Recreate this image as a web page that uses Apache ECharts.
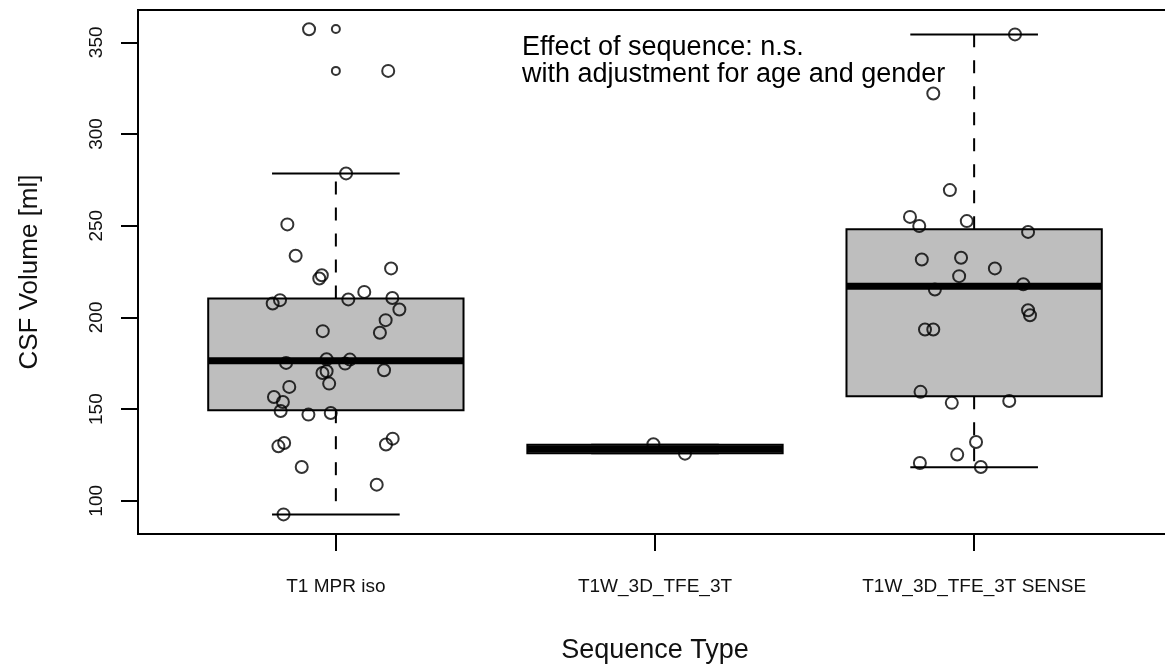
<!DOCTYPE html>
<html lang="en">
<head>
    <meta charset="UTF-8">
    <script src="https://cdn.jsdelivr.net/npm/echarts@6/dist/echarts.min.js"></script>
    <style>
        html, body { margin: 0; padding: 0; background: #fff; overflow: hidden; }
        /* the plot box runs a few pixels past the right edge of the picture */
        #pic { width: 1172px; height: 664px; }
    </style>
    <title>CSF Volume by sequence</title>
</head>
<body>
<div id="pic"></div>
<script type="text/javascript">
    // categories on the x axis (positions 1, 2, 3)
    var categories = ['T1 MPR iso', 'T1W_3D_TFE_3T', 'T1W_3D_TFE_3T SENSE'];
    var yTicks = [100, 150, 200, 250, 300, 350];

    // box stats: lower whisker, Q1, median, Q3, upper whisker
    var boxStats = [
        [92.6, 149.4, 176.3, 210.3, 278.4],
        [125.9, 125.9, 128.2, 130.6, 130.6],
        [118.3, 157.0, 217.0, 248.1, 354.3]
    ];

    // outliers drawn by the boxplot itself (small circles at the group centre)
    var outliers = [[1, 357.2], [1, 334.4]];

    // jittered observations [x position, volume]
    var mprIso = [
        [0.916, 357.1], [1.164, 334.4], [1.032, 278.5], [0.848, 250.7], [0.874, 233.6],
        [1.173, 226.7], [0.956, 223.0], [0.948, 221.2], [1.089, 213.9], [0.825, 209.4],
        [0.802, 207.6], [1.039, 209.8], [1.177, 210.6], [1.199, 204.3], [1.156, 198.5],
        [1.138, 191.6], [0.959, 192.5], [0.844, 175.2], [0.971, 177.2], [1.044, 177.0],
        [1.029, 174.8], [0.958, 169.7], [0.971, 170.6], [1.151, 171.2], [0.979, 163.9],
        [0.854, 162.1], [0.806, 156.6], [0.834, 153.9], [0.827, 149.0], [0.914, 147.0],
        [0.984, 147.9], [0.838, 131.5], [0.820, 129.7], [1.178, 133.9], [1.157, 130.7],
        [0.893, 118.4], [1.128, 108.8], [0.836, 92.6]
    ];
    var tfe3t = [[1.995, 130.8], [2.094, 125.7]];
    var tfe3tSense = [
        [3.128, 354.3], [2.872, 322.1], [2.924, 269.4], [2.799, 254.8], [2.828, 249.8],
        [2.977, 252.5], [3.169, 246.6], [2.836, 231.6], [2.959, 232.5], [3.065, 226.7],
        [2.953, 222.5], [2.877, 215.2], [3.154, 218.1], [3.169, 203.9], [3.175, 201.2],
        [2.846, 193.4], [2.872, 193.4], [2.832, 159.4], [2.930, 153.4], [3.110, 154.4],
        [3.006, 132.1], [2.947, 125.2], [2.830, 120.6], [3.021, 118.4]
    ];

    var FONT = '"Liberation Sans", Arial, sans-serif';

    function renderBox(params, api) {
        var x = api.value(0);
        var lo = api.value(1), q1 = api.value(2), med = api.value(3), q3 = api.value(4), hi = api.value(5);
        var pL = api.coord([x - 0.4, q3]);
        var pR = api.coord([x + 0.4, q1]);
        var cLo = api.coord([x, lo]);
        var cHi = api.coord([x, hi]);
        var capL = api.coord([x - 0.2, 0])[0];
        var capR = api.coord([x + 0.2, 0])[0];
        var yMed = api.coord([x, med])[1];
        var dash = {stroke: '#000', lineWidth: 2, lineDash: [13, 13]};
        var solid = {stroke: '#000', lineWidth: 2};
        return {
            type: 'group',
            children: [
                {type: 'line', shape: {x1: cHi[0], y1: pL[1], x2: cHi[0], y2: cHi[1]}, style: dash},
                {type: 'line', shape: {x1: cLo[0], y1: pR[1], x2: cLo[0], y2: cLo[1]}, style: dash},
                {type: 'line', shape: {x1: capL, y1: cHi[1], x2: capR, y2: cHi[1]}, style: solid},
                {type: 'line', shape: {x1: capL, y1: cLo[1], x2: capR, y2: cLo[1]}, style: solid},
                {type: 'rect', shape: {x: pL[0], y: pL[1], width: pR[0] - pL[0], height: pR[1] - pL[1]},
                    style: {fill: '#bebebe', stroke: '#000', lineWidth: 2}},
                {type: 'line', shape: {x1: pL[0], y1: yMed, x2: pR[0], y2: yMed},
                    style: {stroke: '#000', lineWidth: 7}}
            ]
        };
    }

    var circle = {color: 'rgba(0,0,0,0)', borderColor: '#000', borderWidth: 2};

    var myChart = echarts.init(document.getElementById('pic'));
    var option = {
        backgroundColor: '#fff',
        animation: false,
        textStyle: {fontFamily: FONT},
        grid: {
            left: 138, right: 0, top: 10, bottom: 130,
            outerBoundsMode: 'none', containLabel: false,
            show: true, borderColor: '#000', borderWidth: 2
        },
        xAxis: {
            type: 'value', min: 0.38, max: 3.62,
            splitLine: {show: false}, axisLine: {show: false},
            axisTick: {show: true, length: 17, customValues: [1, 2, 3], lineStyle: {color: '#000', width: 2}},
            axisLabel: {
                customValues: [1, 2, 3], margin: 43, fontSize: 19, color: '#111', fontFamily: FONT,
                formatter: function (v) { return categories[Math.round(v) - 1]; }
            },
            name: 'Sequence Type', nameLocation: 'middle', nameGap: 103,
            nameTextStyle: {fontSize: 27, color: '#111', fontFamily: FONT}
        },
        yAxis: {
            type: 'value', min: 81.9, max: 367.6,
            splitLine: {show: false}, axisLine: {show: false},
            axisTick: {show: true, length: 17, customValues: yTicks, lineStyle: {color: '#000', width: 2}},
            axisLabel: {customValues: yTicks, rotate: 90, margin: 32, fontSize: 19, color: '#111', fontFamily: FONT},
            name: 'CSF Volume [ml]', nameLocation: 'middle', nameGap: 95,
            nameTextStyle: {fontSize: 26, color: '#111', fontFamily: FONT}
        },
        graphic: [{
            type: 'text', x: 522, y: 34, silent: true,
            style: {
                text: 'Effect of sequence: n.s.\nwith adjustment for age and gender',
                font: '27px ' + FONT, fill: '#000', lineHeight: 27, verticalAlign: 'top'
            }
        }],
        series: [
            {
                type: 'custom', renderItem: renderBox, z: 1,
                data: boxStats.map(function (s, i) { return [i + 1].concat(s); })
            },
            {type: 'scatter', data: outliers, symbol: 'circle', symbolSize: 8, itemStyle: circle, z: 2},
            {type: 'scatter', data: mprIso, symbol: 'circle', symbolSize: 12, itemStyle: circle, z: 3},
            {type: 'scatter', data: tfe3t, symbol: 'circle', symbolSize: 12, itemStyle: circle, z: 3},
            {type: 'scatter', data: tfe3tSense, symbol: 'circle', symbolSize: 12, itemStyle: circle, z: 3}
        ]
    };
    option && myChart.setOption(option);
</script>
</body>
</html>
